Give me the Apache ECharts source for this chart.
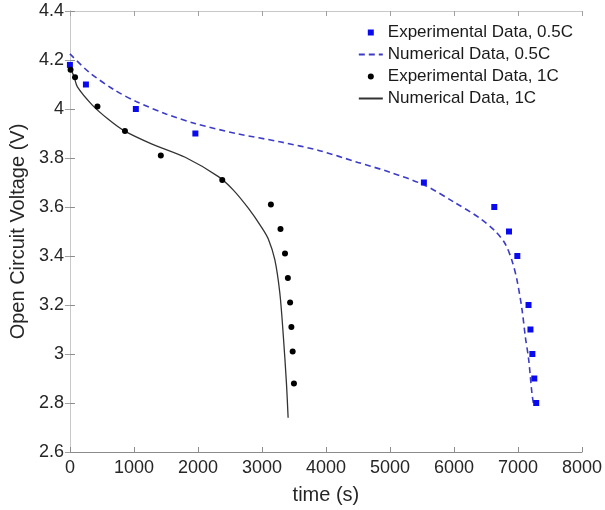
<!DOCTYPE html>
<html>
<head>
<meta charset="utf-8">
<script src="https://cdn.jsdelivr.net/npm/echarts@6/dist/echarts.min.js"></script>
<style>
  html, body { margin: 0; padding: 0; background: #fff; }
  #chart { width: 605px; height: 510px; }
</style>
</head>
<body>
<div id="chart"></div>
<script>
// experimental data, 0.5C  [time s, voltage V]
const exp05 = [
  [0, 4.18], [250, 4.10], [1030, 4.00], [1960, 3.90], [5530, 3.70],
  [6630, 3.60], [6860, 3.50], [6990, 3.40], [7165, 3.20], [7195, 3.10],
  [7225, 3.00], [7255, 2.90], [7285, 2.80]
];
// numerical data, 0.5C
const num05 = [
  [0, 4.225], [300, 4.15], [700, 4.077], [1040, 4.03], [1500, 3.98],
  [1967, 3.94], [2600, 3.90], [3300, 3.865], [3900, 3.83], [4500, 3.782],
  [5000, 3.742], [5533, 3.69], [6000, 3.62], [6400, 3.555], [6650, 3.50],
  [6800, 3.45], [6908, 3.38], [6986, 3.30], [7064, 3.18], [7115, 3.07],
  [7166, 2.98], [7218, 2.84], [7240, 2.80]
];
// experimental data, 1C
const exp1 = [
  [10, 4.16], [80, 4.13], [430, 4.01], [860, 3.91], [1420, 3.81],
  [2380, 3.71], [3140, 3.61], [3290, 3.51], [3360, 3.41], [3405, 3.31],
  [3440, 3.21], [3460, 3.11], [3480, 3.01], [3500, 2.88]
];
// numerical data, 1C
const num1 = [
  [0, 4.17], [65, 4.132], [117, 4.09], [350, 4.016], [600, 3.958],
  [843, 3.912], [1283, 3.857], [1801, 3.803], [2320, 3.724], [2550, 3.67],
  [2787, 3.595], [3000, 3.515], [3098, 3.47], [3201, 3.385], [3279, 3.25],
  [3331, 3.085], [3383, 2.88], [3409, 2.74]
];
const legendNames = [
  'Experimental Data, 0.5C',
  'Numerical Data, 0.5C',
  'Experimental Data, 1C',
  'Numerical Data, 1C'
];

const chart = echarts.init(document.getElementById('chart'));

const tickLabel = { color: '#262626', fontSize: 18, fontFamily: 'Liberation Sans, Arial, sans-serif' };
const axisLine = { lineStyle: { color: '#8c8c8c', width: 1 } };
const boxLine = { lineStyle: { color: '#c8c8c8', width: 1 } };

chart.setOption({
  animation: false,
  backgroundColor: '#fff',
  grid: { left: 67, right: 22, top: 11, bottom: 58 },
  legend: {
    orient: 'vertical',
    right: 27,
    top: 19,
    itemWidth: 24,
    itemHeight: 6,
    itemGap: 5,
    padding: 5,
    symbolKeepAspect: true,
    textStyle: { color: '#1a1a1a', fontSize: 17, fontFamily: 'Liberation Sans, Arial, sans-serif' },
    data: [
      { name: legendNames[0], icon: 'path://M0,0h1v1h-1z' },
      { name: legendNames[1], itemStyle: { opacity: 0 } },
      { name: legendNames[2], icon: 'circle' },
      { name: legendNames[3], itemStyle: { opacity: 0 } }
    ]
  },
  xAxis: [
    {
      type: 'value', min: 0, max: 8000, interval: 1000,
      name: 'time (s)', nameLocation: 'middle', nameGap: 33,
      nameTextStyle: { color: '#262626', fontSize: 20, fontFamily: 'Liberation Sans, Arial, sans-serif' },
      axisLine: axisLine,
      axisTick: { inside: true, length: 5, lineStyle: { color: '#8c8c8c' } },
      axisLabel: Object.assign({ margin: 7, formatter: v => String(v) }, tickLabel),
      splitLine: { show: false }
    },
    {
      type: 'value', min: 0, max: 8000, interval: 1000, position: 'top',
      axisLine: boxLine,
      axisTick: { inside: true, length: 5, lineStyle: { color: '#a0a0a0' } },
      axisLabel: { show: false },
      splitLine: { show: false }
    }
  ],
  yAxis: [
    {
      type: 'value', min: 2.6, max: 4.4, interval: 0.2,
      name: 'Open Circuit Voltage (V)', nameLocation: 'middle', nameGap: 38,
      nameTextStyle: { color: '#262626', fontSize: 20, fontFamily: 'Liberation Sans, Arial, sans-serif' },
      axisLine: Object.assign({ show: true }, axisLine),
      axisTick: { show: true, inside: true, length: 5, lineStyle: { color: '#8c8c8c' } },
      axisLabel: Object.assign({ margin: 6, formatter: v => String(Math.round(v * 10) / 10) }, tickLabel),
      splitLine: { show: false }
    },
    {
      type: 'value', min: 2.6, max: 4.4, interval: 0.2, position: 'right',
      axisLine: Object.assign({ show: true }, boxLine),
      axisTick: { show: true, inside: true, length: 5, lineStyle: { color: '#a0a0a0' } },
      axisLabel: { show: false },
      splitLine: { show: false }
    }
  ],
  series: [
    {
      name: legendNames[1], type: 'line', data: num05, showSymbol: false, symbol: 'none',
      smooth: 0.3,
      lineStyle: { color: '#3c3cc8', width: 1.6, type: [6, 4] },
      itemStyle: { color: '#3c3cc8' }, z: 2
    },
    {
      name: legendNames[3], type: 'line', data: num1, showSymbol: false, symbol: 'none',
      smooth: 0.3,
      lineStyle: { color: '#333', width: 1.3 },
      itemStyle: { color: '#333' }, z: 2
    },
    {
      name: legendNames[0], type: 'scatter', data: exp05, symbol: 'rect', symbolSize: 6,
      itemStyle: { color: '#0a0aee', opacity: 1 }, z: 3
    },
    {
      name: legendNames[2], type: 'scatter', data: exp1, symbol: 'circle', symbolSize: 6,
      itemStyle: { color: '#000', opacity: 1 }, z: 3
    }
  ]
});
</script>
</body>
</html>
